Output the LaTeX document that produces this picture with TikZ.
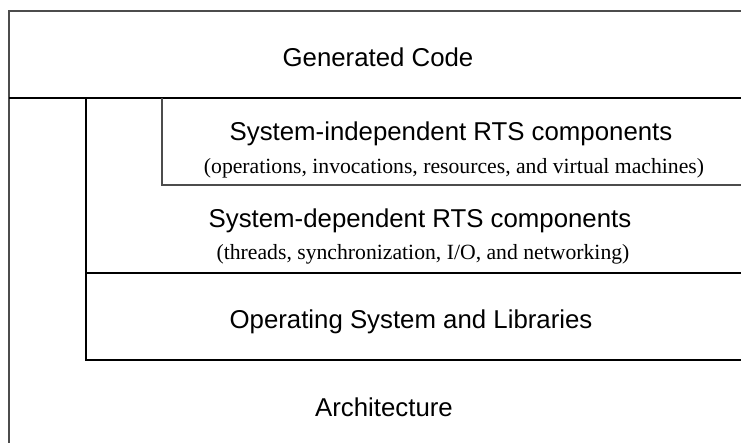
\documentclass[tikz,border=0pt]{standalone}
\usepackage{fontspec}
\setmainfont{Liberation Serif}
\setsansfont{Liberation Sans}
\begin{document}
\begin{tikzpicture}[x=1pt,y=-1pt,
  frame/.style={line width=1.4pt,black},
  softframe/.style={line width=1.3pt,black!70},
  title/.style={font=\sffamily\fontsize{25.8}{30}\selectfont,anchor=base,inner sep=0pt},
  detail/.style={font=\rmfamily\fontsize{21.7}{26}\selectfont,anchor=base,inner sep=0pt}]
  \useasboundingbox (0,0) rectangle (741,443);
  % outer frame and the generated-code band
  \draw[softframe] (9,443) -- (9,11) -- (741,11);
  \draw[frame] (9,98) -- (741,98);
  % system-dependent layer and operating system
  \draw[frame] (86,98) -- (86,360) -- (741,360);
  \draw[frame] (86,273) -- (741,273);
  % system-independent layer
  \draw[softframe] (162,98) -- (162,185) -- (741,185);
  % labels
  \node[title] (gen) at (378,67) {Generated Code};
  \node[title] (sitl) at (451,141) {System-independent RTS components};
  \node[detail] (sidt) at (454,174) {(operations, invocations, resources, and virtual machines)};
  \node[title] (sdtl) at (420,228) {System-dependent RTS components};
  \node[detail] (sddt) at (423,260) {(threads, synchronization, I/O, and networking)};
  \node[title] (os) at (411,328) {Operating System and Libraries};
  \node[title] (arch) at (384,416) {Architecture};
\end{tikzpicture}
\end{document}
